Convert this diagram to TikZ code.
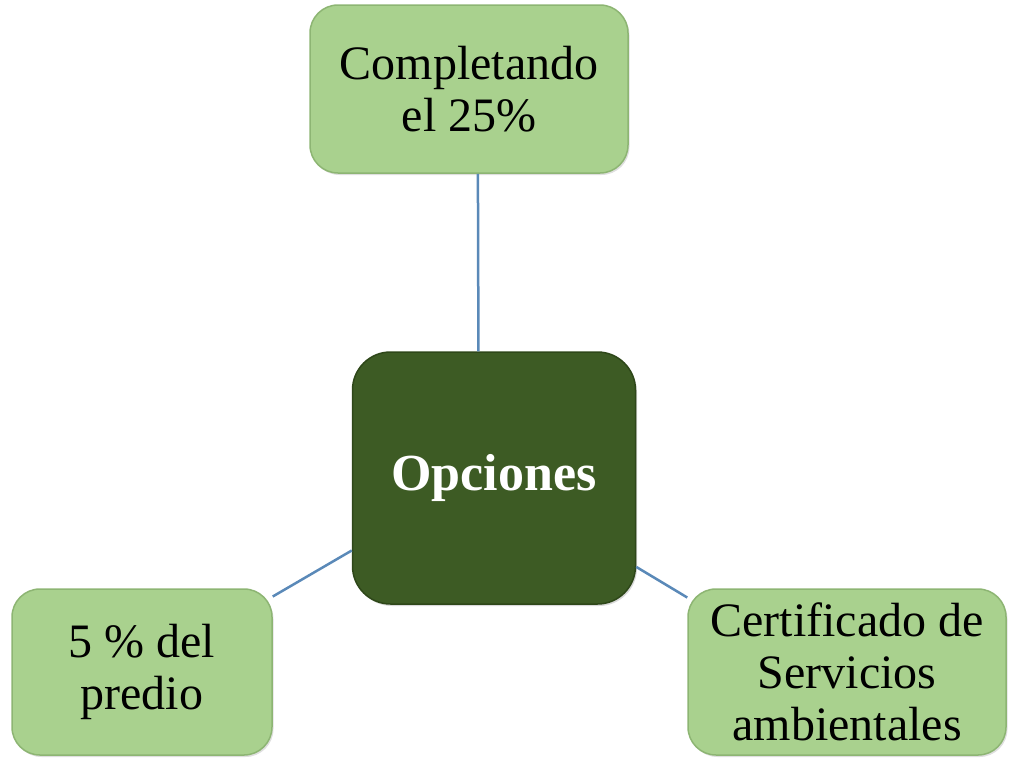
\documentclass[tikz,border=0pt]{standalone}
\usepackage{fontspec}
\setmainfont{Liberation Serif}
\usetikzlibrary{shadows}

\definecolor{leafgreen}{HTML}{A9D18E}
\definecolor{leafrim}{HTML}{8DB573}
\definecolor{darkgreen}{HTML}{3D5B24}
\definecolor{darkrim}{HTML}{2E4719}
\definecolor{linkblue}{HTML}{5A89B8}

\tikzset{
  option/.style={draw=leafrim, line width=1.5pt, fill=leafgreen, rounded corners=28pt,
    align=center, font=\fontsize{48}{52}\selectfont, inner sep=0pt,
    drop shadow={opacity=0.25, shadow xshift=1.5pt, shadow yshift=-2pt}},
  hub/.style={draw=darkrim, line width=1.5pt, fill=darkgreen, rounded corners=38pt,
    text=white, font=\fontsize{52}{56}\selectfont\bfseries, inner sep=0pt,
    drop shadow={opacity=0.3, shadow xshift=1.5pt, shadow yshift=-2pt}},
  link/.style={draw=linkblue, line width=2.5pt}
}

\begin{document}
\begin{tikzpicture}[x=1pt,y=-1pt]
      \useasboundingbox (0,0) rectangle (1009,758) ;
      % the three choices and the hub
      \node[option, minimum width=318pt, minimum height=168pt] (Top) at (469,89) {Completando\\el 25\%} ;
      \node[hub, minimum width=283pt, minimum height=252pt] (Hub) at (494,478) {Opciones} ;
      \node[option, minimum width=260pt, minimum height=166pt] (Left) at (142,672) {5 \% del\\predio} ;
      \node[option, minimum width=318pt, minimum height=166pt] (Right) at (847,672) {Certificado de\\Servicios\\ambientales} ;
      % connectors
      \draw[link] (Top.-84) -- (Hub.97) ;
      \draw[link] (Left.30) -- (Hub.207) ;
      \draw[link] (Right.155) -- (Hub.-32) ;
\end{tikzpicture}
\end{document}
